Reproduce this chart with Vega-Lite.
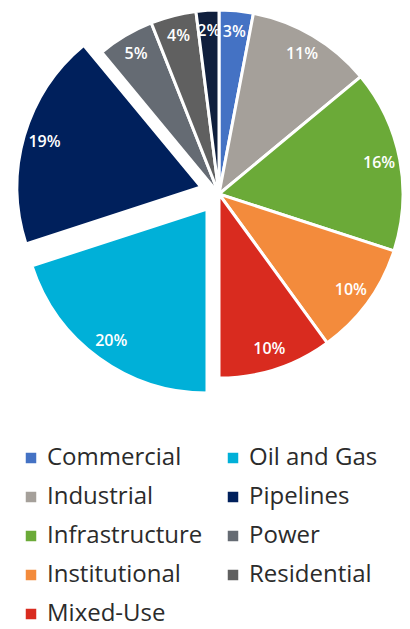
{
  "$schema": "https://vega.github.io/schema/vega-lite/v6.json",
  "width": 382,
  "height": 388,
  "padding": {"left": 28, "top": 0, "right": 0, "bottom": 241},
  "autosize": {"type": "none"},
  "background": "white",
  "data": {
    "values": [
      {"category": "Commercial", "value": 0.03},
      {"category": "Industrial", "value": 0.11},
      {"category": "Infrastructure", "value": 0.16},
      {"category": "Institutional", "value": 0.10},
      {"category": "Mixed-Use", "value": 0.10},
      {"category": "Oil and Gas", "value": 0.20},
      {"category": "Pipelines", "value": 0.19},
      {"category": "Power", "value": 0.05},
      {"category": "Residential", "value": 0.04},
      {"category": "Other", "value": 0.02}
    ]
  },
  "transform": [{"window": [{"op": "row_number", "as": "idx"}]}],
  "encoding": {
    "theta": {"field": "value", "type": "quantitative", "stack": true},
    "order": {"field": "idx", "type": "quantitative"}
  },
  "layer": [
    {
      "mark": {"type": "arc", "outerRadius": 184, "stroke": "white", "strokeWidth": 3},
      "encoding": {
        "color": {
          "field": "category", "type": "nominal",
          "scale": {
            "domain": ["Commercial", "Industrial", "Infrastructure", "Institutional", "Mixed-Use", "Oil and Gas", "Pipelines", "Power", "Residential", "Other"],
            "range": ["#4472C4", "#A5A09A", "#6BAA38", "#F38B3C", "#D92B1F", "#00B0D8", "#00205C", "#656B73", "#606060", "#101F3D"]
          },
          "legend": {
            "values": ["Commercial", "Industrial", "Infrastructure", "Institutional", "Mixed-Use", "Oil and Gas", "Pipelines", "Power", "Residential"],
            "title": null,
            "orient": "none",
            "legendX": -9,
            "legendY": 446,
            "columns": 2,
            "symbolType": "square",
            "symbolSize": 110,
            "symbolStrokeWidth": 0,
            "labelFont": "Open Sans",
            "labelFontSize": 24,
            "labelColor": "#2b2b2b",
            "labelOffset": 4,
            "rowPadding": 15,
            "columnPadding": 18,
            "labelLimit": 300
          }
        },
        "opacity": {"condition": {"test": "datum.category === 'Oil and Gas' || datum.category === 'Pipelines'", "value": 0}, "value": 1}
      }
    },
    {
      "mark": {"type": "arc", "outerRadius": 184, "stroke": "white", "strokeWidth": 3, "xOffset": -12, "yOffset": 15},
      "encoding": {
        "color": {"field": "category", "type": "nominal"},
        "opacity": {"condition": {"test": "datum.category === 'Oil and Gas'", "value": 1}, "value": 0}
      }
    },
    {
      "mark": {"type": "arc", "outerRadius": 184, "stroke": "white", "strokeWidth": 3, "xOffset": -18, "yOffset": -7},
      "encoding": {
        "color": {"field": "category", "type": "nominal"},
        "opacity": {"condition": {"test": "datum.category === 'Pipelines'", "value": 1}, "value": 0}
      }
    },
    {
      "mark": {"type": "text", "radius": 163, "font": "Open Sans", "fontSize": 16, "fontWeight": 600, "fill": "white"},
      "encoding": {
        "text": {"field": "value", "type": "quantitative", "format": ".0%"},
        "opacity": {"condition": {"test": "datum.category === 'Oil and Gas' || datum.category === 'Pipelines'", "value": 0}, "value": 1}
      }
    },
    {
      "mark": {"type": "text", "radius": 163, "font": "Open Sans", "fontSize": 16, "fontWeight": 600, "fill": "white", "dx": -12, "dy": 15},
      "encoding": {
        "text": {"field": "value", "type": "quantitative", "format": ".0%"},
        "opacity": {"condition": {"test": "datum.category === 'Oil and Gas'", "value": 1}, "value": 0}
      }
    },
    {
      "mark": {"type": "text", "radius": 163, "font": "Open Sans", "fontSize": 16, "fontWeight": 600, "fill": "white", "dx": -18, "dy": -7},
      "encoding": {
        "text": {"field": "value", "type": "quantitative", "format": ".0%"},
        "opacity": {"condition": {"test": "datum.category === 'Pipelines'", "value": 1}, "value": 0}
      }
    }
  ],
  "config": {"view": {"stroke": null}}
}
